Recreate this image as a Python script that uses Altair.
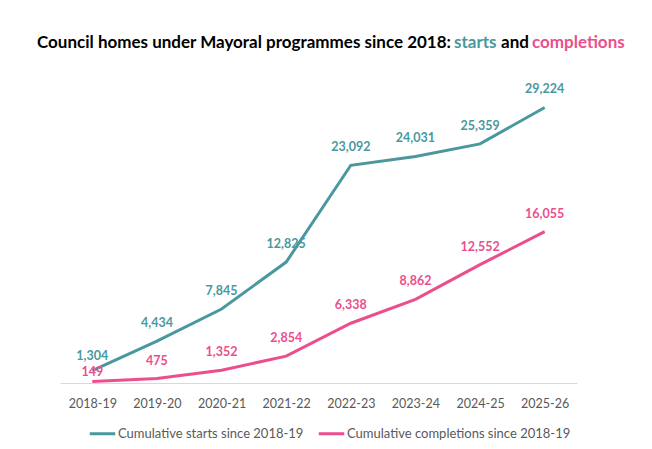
import altair as alt
import pandas as pd

years = ["2018-19", "2019-20", "2020-21", "2021-22", "2022-23", "2023-24", "2024-25", "2025-26"]
starts = [1304, 4434, 7845, 12825, 23092, 24031, 25359, 29224]
completions = [149, 475, 1352, 2854, 6338, 8862, 12552, 16055]
series_names = ["Cumulative starts since 2018-19", "Cumulative completions since 2018-19"]
series_colors = ["#4A989E", "#EC4E8D"]
title_parts = ["Council homes under Mayoral programmes since 2018:", "starts", "and", "completions"]

rows = []
for y, v in zip(years, starts):
    rows.append({"year": y, "value": v, "series": series_names[0]})
for y, v in zip(years, completions):
    rows.append({"year": y, "value": v, "series": series_names[1]})
df = pd.DataFrame(rows)

FONT = "Lato"
GREY = "#595959"

x_enc = alt.X("year:N", sort=years, title=None,
              scale=alt.Scale(paddingInner=0, paddingOuter=0.5),
              axis=alt.Axis(labelAngle=0, ticks=False, domainColor="#D9D9D9", domainWidth=1,
                            labelColor=GREY, labelFont=FONT, labelFontSize=12.5, labelPadding=14, grid=False))
y_enc = alt.Y("value:Q", scale=alt.Scale(domain=[0, 35000]), axis=None)
color_enc = alt.Color("series:N", sort=series_names,
                      scale=alt.Scale(domain=series_names, range=series_colors),
                      legend=alt.Legend(title=None, orient="none", direction="horizontal",
                                        legendX=28, legendY=366, symbolType="stroke",
                                        symbolSize=650, symbolStrokeWidth=3,
                                        labelFont=FONT, labelFontSize=13, labelColor=GREY,
                                        labelLimit=400,
                                        labelOffset=1, columnPadding=8, padding=0))
lab_color = alt.Color("series:N", scale=alt.Scale(domain=series_names, range=series_colors), legend=None)

base = alt.Chart(df)

lines = base.mark_line(strokeWidth=3).encode(x=x_enc, y=y_enc, color=color_enc)

label_common = dict(fontWeight="bold", font=FONT, fontSize=12.5, baseline="middle", align="center")
labels = base.mark_text(dy=-18, **label_common).transform_filter(
    alt.datum.year != years[0]
).encode(x=x_enc, y=y_enc, color=lab_color, text=alt.Text("value:Q", format=","))
first_s = base.mark_text(dy=-15, **label_common).transform_filter(
    (alt.datum.year == years[0]) & (alt.datum.series == series_names[0])
).encode(x=x_enc, y=y_enc, color=lab_color, text=alt.Text("value:Q", format=","))
first_c = base.mark_text(dy=-10, **label_common).transform_filter(
    (alt.datum.year == years[0]) & (alt.datum.series == series_names[1])
).encode(x=x_enc, y=y_enc, color=lab_color, text=alt.Text("value:Q", format=","))

def title_piece(text, x, color):
    return alt.Chart(pd.DataFrame({"t": [text]})).mark_text(
        font=FONT, fontSize=17, fontWeight="bold", align="left", baseline="middle", color=color
    ).encode(x=alt.value(x), y=alt.value(-10), text="t:N")

t1 = title_piece(title_parts[0], -23, "#000000")
t2 = title_piece(title_parts[1], 394, series_colors[0])
t3 = title_piece(title_parts[2], 441, "#000000")
t4 = title_piece(title_parts[3], 472, series_colors[1])

chart = alt.layer(lines, labels, first_s, first_c, t1, t2, t3, t4).properties(
    width=517, height=330,
    autosize=alt.AutoSizeParams(type="none"),
    padding={"left": 60, "top": 53, "right": 75, "bottom": 66},
    background="white",
).configure_view(stroke=None)

chart.save("out.html", embed_options={"renderer": "svg", "actions": False})
